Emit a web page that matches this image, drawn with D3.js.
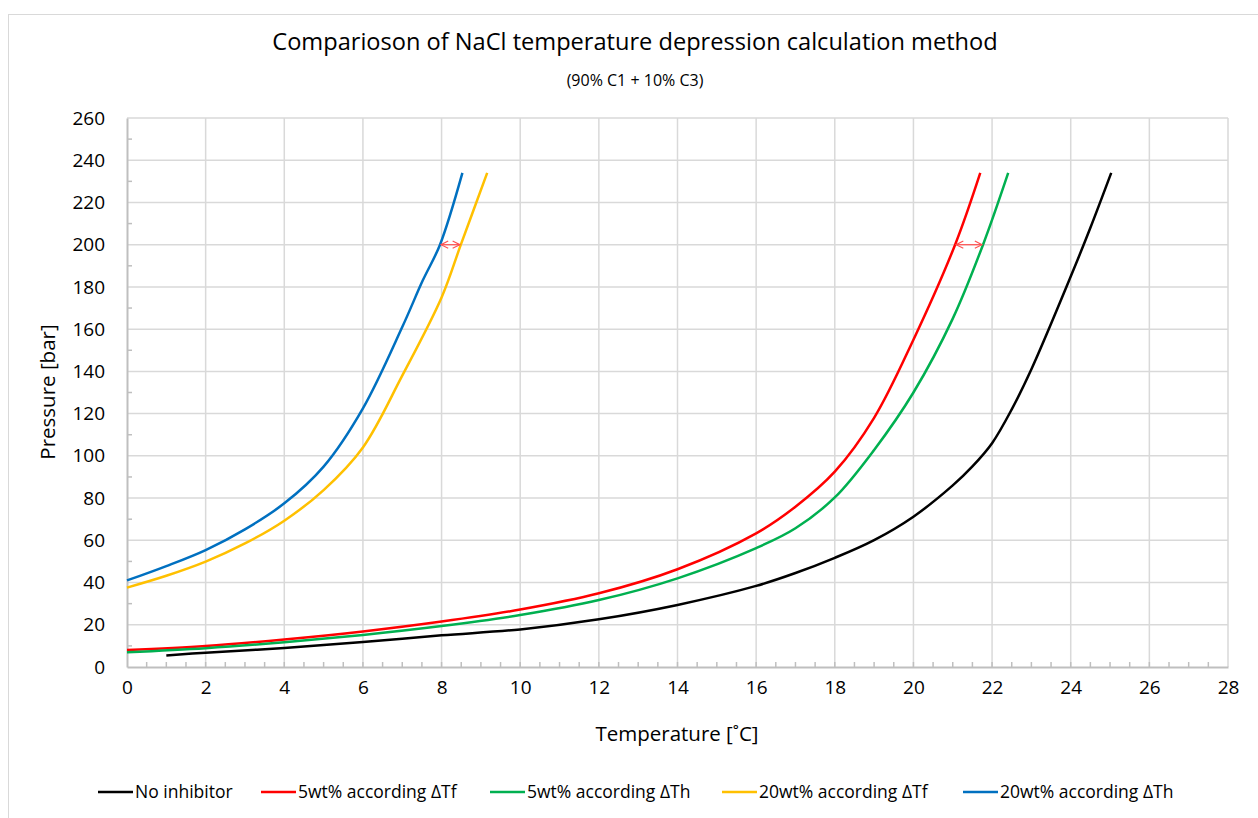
<!DOCTYPE html>
<html>
<head>
<meta charset="utf-8">
<script src="https://cdn.jsdelivr.net/npm/d3@7"></script>
<style>
  body { margin: 0; background: #fff; }
  text { font-family: "Open Sans", "Noto Sans", sans-serif; fill: #000; }
</style>
</head>
<body>
<svg id="chart" width="1258" height="818"></svg>
<script>
// data: [temperature, pressure]
var noInhibitor = [[1, 5.4], [2, 6.8], [4, 9.0], [6, 11.8], [8, 15.0], [10, 17.8], [12, 22.6], [14, 29.4], [16, 38.4], [17, 44.5], [18, 51.7], [19, 60.1], [20, 71.2], [21, 86], [21.5, 95], [22, 106], [22.5, 122], [23, 141], [24, 184.9], [24.5, 208], [25.03, 234]];
var nacl5Tf = [[0, 8.0], [2, 9.9], [4, 13.0], [6, 16.8], [8, 21.5], [10, 27.2], [12, 34.9], [14, 46.3], [16, 63.3], [17, 75.9], [18, 92.5], [19, 118], [20, 155], [21.06, 200], [21.7, 234]];
var nacl5Th = [[0, 7.0], [2, 8.9], [4, 11.7], [6, 15.2], [8, 19.4], [10, 24.6], [12, 31.7], [14, 42.0], [16, 56.3], [17, 65.7], [18, 80.3], [19, 102.8], [20, 130], [21, 165], [21.77, 200], [22.41, 234]];
var nacl20Tf = [[0, 37.6], [1, 43.2], [2, 49.9], [3, 58.5], [4, 69.3], [5, 83.8], [6, 104], [7, 138], [8, 175], [8.49, 200], [9.16, 234]];
var nacl20Th = [[0, 41.0], [1, 47.8], [2, 55.4], [3, 65.2], [4, 77.5], [5, 94.9], [6, 122.5], [7, 161], [7.52, 183], [7.96, 200], [8.53, 234]];

var seriesNames = ["No inhibitor", "5wt% according \u0394Tf", "5wt% according \u0394Th", "20wt% according \u0394Tf", "20wt% according \u0394Th"];
var seriesColors = ["#000000", "#ff0000", "#00b050", "#ffc000", "#0070c0"];
var seriesData = [noInhibitor, nacl5Tf, nacl5Th, nacl20Tf, nacl20Th];

// red double arrows at 200 bar
var arrows = [[7.96, 8.49, 200], [21.06, 21.77, 200]];

var xTicks = d3.range(0, 29, 2);
var yTicks = d3.range(0, 261, 20);

var svg = d3.select("#chart");
var plotLeft = 127, plotRight = 1228, plotTop = 118, plotBottom = 667;

var x = d3.scaleLinear().domain([0, 28]).range([plotLeft, plotRight]);
var y = d3.scaleLinear().domain([0, 260]).range([plotBottom, plotTop]);

// outer chart border
svg.append("rect").attr("x", 8.5).attr("y", 14.5).attr("width", 1262).attr("height", 820)
    .attr("fill", "none").attr("stroke", "#d9d9d9");

// title
svg.append("text").attr("x", 635).attr("y", 50).attr("text-anchor", "middle")
    .style("font-size", "23.6px").text("Comparioson of NaCl temperature depression calculation method");
svg.append("text").attr("x", 635).attr("y", 86).attr("text-anchor", "middle")
    .style("font-size", "16px").text("(90% C1 + 10% C3)");

// gridlines
svg.append("g").selectAll("line").data(yTicks.slice(1)).enter().append("line")
    .attr("x1", plotLeft).attr("x2", plotRight)
    .attr("y1", function (d) { return y(d); }).attr("y2", function (d) { return y(d); })
    .attr("stroke", "#d9d9d9").attr("stroke-width", 1.5);
svg.append("g").selectAll("line").data(xTicks.slice(1)).enter().append("line")
    .attr("y1", plotTop).attr("y2", plotBottom)
    .attr("x1", function (d) { return x(d); }).attr("x2", function (d) { return x(d); })
    .attr("stroke", "#d9d9d9").attr("stroke-width", 1.5);

// minor ticks
svg.append("g").selectAll("line").data(d3.range(0.5, 28, 0.5)).enter().append("line")
    .attr("x1", function (d) { return x(d); }).attr("x2", function (d) { return x(d); })
    .attr("y1", plotBottom).attr("y2", plotBottom - 5)
    .attr("stroke", "#bfbfbf").attr("stroke-width", 1.5);
svg.append("g").selectAll("line").data(d3.range(10, 260, 20)).enter().append("line")
    .attr("y1", function (d) { return y(d); }).attr("y2", function (d) { return y(d); })
    .attr("x1", plotLeft).attr("x2", plotLeft + 5)
    .attr("stroke", "#bfbfbf").attr("stroke-width", 1.5);

// axes
var xAxis = svg.append("g").attr("transform", "translate(0," + plotBottom + ")")
    .call(d3.axisBottom(x).tickValues(xTicks).tickSize(0).tickPadding(14));
var yAxis = svg.append("g").attr("transform", "translate(" + plotLeft + ",0)")
    .call(d3.axisLeft(y).tickValues(yTicks).tickSize(0).tickPadding(22));
xAxis.select(".domain").attr("stroke", "#bfbfbf").attr("stroke-width", 2);
yAxis.select(".domain").attr("stroke", "#bfbfbf").attr("stroke-width", 2);
xAxis.selectAll("text").style("font-size", "19px").style("font-family", "'Open Sans', sans-serif").attr("fill", "#000");
yAxis.selectAll("text").style("font-size", "19px").style("font-family", "'Open Sans', sans-serif").attr("fill", "#000");

// axis titles
svg.append("text").attr("x", 677).attr("y", 741).attr("text-anchor", "middle")
    .style("font-size", "20.5px").text("Temperature [\u02daC]");
svg.append("text").attr("transform", "translate(55,392) rotate(-90)").attr("text-anchor", "middle")
    .style("font-size", "20.5px").text("Pressure [bar]");

// curves
var line = d3.line()
    .x(function (d) { return x(d[0]); })
    .y(function (d) { return y(d[1]); })
    .curve(d3.curveCatmullRom.alpha(0.5));

svg.append("g").selectAll("path").data(seriesData).enter().append("path")
    .attr("d", line)
    .attr("fill", "none")
    .attr("stroke", function (d, i) { return seriesColors[i]; })
    .attr("stroke-width", 2.5);

// arrows
var defs = svg.append("defs");
defs.append("marker").attr("id", "head").attr("viewBox", "0 0 10 10")
    .attr("refX", 9).attr("refY", 5).attr("markerWidth", 9).attr("markerHeight", 9)
    .attr("markerUnits", "userSpaceOnUse").attr("orient", "auto-start-reverse")
    .append("path").attr("d", "M1,1 L9,5 L1,9").attr("fill", "none")
    .attr("stroke", "#ff5050").attr("stroke-width", 1.3);

svg.append("g").selectAll("line").data(arrows).enter().append("line")
    .attr("x1", function (d) { return x(d[0]) + 1; })
    .attr("x2", function (d) { return x(d[1]) - 1; })
    .attr("y1", function (d) { return y(d[2]); })
    .attr("y2", function (d) { return y(d[2]); })
    .attr("stroke", "#ff5050").attr("stroke-width", 1.2)
    .attr("marker-start", "url(#head)").attr("marker-end", "url(#head)");

// legend
var legendX = [98, 261, 490, 722, 963];
var legend = svg.append("g").selectAll("g").data(seriesNames).enter().append("g")
    .attr("transform", function (d, i) { return "translate(" + legendX[i] + ",792)"; });
legend.append("line").attr("x1", 0).attr("x2", 35).attr("y1", 0).attr("y2", 0)
    .attr("stroke", function (d, i) { return seriesColors[i]; }).attr("stroke-width", 2.5);
legend.append("text").attr("x", 37).attr("y", 6).style("font-size", "17.5px")
    .text(function (d) { return d; });
</script>
</body>
</html>
